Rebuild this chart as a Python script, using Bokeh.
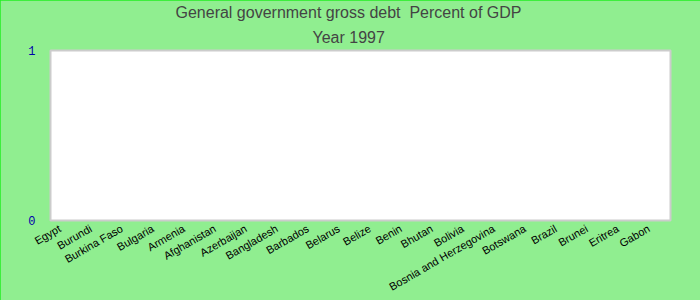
from bokeh.plotting import figure
from bokeh.models import Title, FixedTicker, Range1d
from bokeh.embed import file_html
from bokeh.resources import INLINE
import math

categories = ["Egypt", "Burundi", "Burkina Faso", "Bulgaria", "Armenia", "Afghanistan",
              "Azerbaijan", "Bangladesh", "Barbados", "Belarus", "Belize", "Benin",
              "Bhutan", "Bolivia", "Bosnia and Herzegovina", "Botswana", "Brazil",
              "Brunei", "Eritrea", "Gabon"]
debt_values = [0] * len(categories)  # no data shown for 1997
y_ticks = [0, 1]

n = len(categories)
x_pos = [i + 0.5 for i in range(n)]
label_shift = 0.2  # rotated labels end slightly left of the category centre
tick_pos = [x - label_shift for x in x_pos]

p = figure(x_range=Range1d(0, n), y_range=(0, 1), width=700, height=300,
           output_backend="svg", toolbar_location=None,
           min_border_left=50, min_border_right=30, min_border_top=0, min_border_bottom=80)
p.title = None
p.add_layout(Title(text="Year 1997", align="left", offset=262, text_font="Liberation Sans",
                   text_font_size="16px", text_font_style="normal", text_color="#444444",
                   standoff=9), "above")
p.add_layout(Title(text="General government gross debt\u00a0 Percent of GDP", align="left",
                   offset=125, text_font="Liberation Sans", text_font_size="16px",
                   text_font_style="normal", text_color="#444444", standoff=3), "above")

p.vbar(x=x_pos, top=debt_values, width=0.8, fill_color="#4572A7", line_color=None)

p.background_fill_color = "white"
p.border_fill_color = "#90EE90"
p.outline_line_color = "#cccccc"
p.outline_line_width = 2
p.xgrid.grid_line_color = None
p.ygrid.grid_line_color = None

p.yaxis.ticker = FixedTicker(ticks=y_ticks)
p.yaxis.axis_line_color = None
p.yaxis.major_tick_line_color = None
p.yaxis.minor_tick_line_color = None
p.yaxis.major_label_text_color = "#0000aa"
p.yaxis.major_label_text_font = "Liberation Mono"
p.yaxis.major_label_text_font_size = "12px"
p.yaxis.major_label_standoff = 9

p.xaxis.ticker = FixedTicker(ticks=tick_pos, minor_ticks=[])
p.xaxis.major_label_overrides = {t: c for t, c in zip(tick_pos, categories)}
p.xaxis.axis_line_color = None
p.xaxis.major_tick_line_color = None
p.xaxis.minor_tick_line_color = None
p.xaxis.major_label_orientation = math.pi / 6
p.xaxis.major_label_text_font = "Liberation Sans"
p.xaxis.major_label_text_font_size = "11px"
p.xaxis.major_label_text_color = "black"
p.xaxis.major_label_standoff = 1

p.styles = {"outline": "2px solid #22ee22", "outline-offset": "-2px"}

open("out.html", "w").write(file_html(p, INLINE))
